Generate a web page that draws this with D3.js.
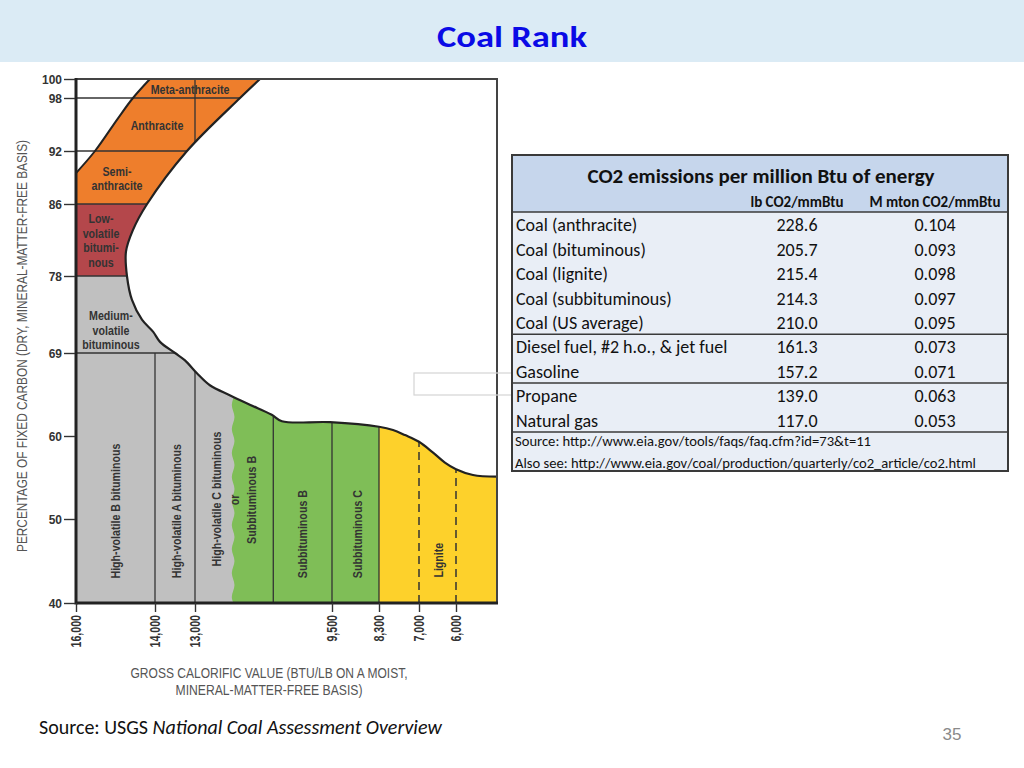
<!DOCTYPE html>
<html><head><meta charset="utf-8">
<script src="https://cdn.jsdelivr.net/npm/d3@7"></script>
<style>body{margin:0;background:#fff;} svg{display:block}</style>
</head><body><svg id="c" width="1024" height="768"></svg>
<script>
// ---------------- DATA ----------------
const pageTitle = "Coal Rank";
const yTicks = [100, 98, 92, 86, 78, 69, 60, 50, 40];            // % fixed carbon
const xTicks = [16000, 14000, 13000, 9500, 8300, 7000, 6000];     // Btu/lb
const rankLevels = [98, 92, 86, 78, 69];                          // horizontal rank boundaries
const solidBtu = [13000, 11000, 9500, 8300];                      // vertical solid boundaries
const hvBoundaryBtu = 14000;                                      // boundary ending at 69%
const dashedBtu = [7000, 6000];
const waveBtu = 12000;                                            // hvC bituminous / subbituminous
const lignitStartBtu = 8300;
const xEndBtu = 4950;
// right edge of the coal field [Btu, %FC]
const rightEdge = [[11340,100],[11850,98],[13200,92],[14200,86],[14560,83.1],[14735,80.7],[14710,78],
  [14583,75.2],[14330,72.9],[14050,71.5],[13875,70.3],[13500,69],[13250,68.2],[12950,66.8],[12620,65.5],
  [12100,64.4],[11600,63.4],[11040,62.3],[10780,61.6],[9550,61.5],[8300,61.0],[7845,60.65],[7455,60.1],
  [7000,59.3],[6620,58.0],[6300,56.8],[6000,56.0],[5565,55.3],[4950,55.1]];
// upper-left edge of the anthracite field
const leftEdge = [[16000,89.5],[15519,92],[14937,95.7],[14558,98],[14128,100]];
const rankNames = [
  ["Meta-anthracite"], ["Anthracite"], ["Semi-","anthracite"], ["Low-","volatile","bitumi-","nous"],
  ["Medium-","volatile","bituminous"]];
const rankAt = [[13125,98.85],[13950,94.9],[14963,89.74],[15367,84.4],[15115,73.4]];
const rotNames = ["High-volatile B bituminous","High-volatile A bituminous","High-volatile C bituminous",
  "or","Subbituminous B","Subbituminous B","Subbituminous C","Lignite"];
const rotAt = [[15013,50.95],[13475,50.95],[12463,52.4],[12000,52.3],[11569,52.3],[10266,48.2],[8862,48.2],[6487,45.1]];
const yTitle = "PERCENTAGE OF FIXED CARBON (DRY, MINERAL-MATTER-FREE BASIS)";
const xTitle = ["GROSS CALORIFIC VALUE (BTU/LB ON A MOIST,", "MINERAL-MATTER-FREE BASIS)"];

const tableTitle = "CO2 emissions per million Btu of energy";
const colHeaders = ["lb CO2/mmBtu", "M mton CO2/mmBtu"];
const fuels = ["Coal (anthracite)","Coal (bituminous)","Coal (lignite)","Coal (subbituminous)","Coal (US average)",
  "Diesel fuel, #2 h.o., & jet fuel","Gasoline","Propane","Natural gas"];
const lbCO2 = [228.6, 205.7, 215.4, 214.3, 210.0, 161.3, 157.2, 139.0, 117.0];
const mtonCO2 = [0.104, 0.093, 0.098, 0.097, 0.095, 0.073, 0.071, 0.063, 0.053];
const groupEnds = [4, 6, 8];
const tableNotes = ["Source: http://www.eia.gov/tools/faqs/faq.cfm?id=73&t=11",
  "Also see: http://www.eia.gov/coal/production/quarterly/co2_article/co2.html"];
const sourcePlain = "Source: USGS ";
const sourceItalic = "National Coal Assessment Overview";
const pageNumber = "35";

// ---------------- DRAW ----------------
const CAL = "Carlito, Calibri, Lato, 'Open Sans', sans-serif";
const HEL = "'Liberation Sans', Arial, Helvetica, sans-serif";
const SQ = 0.82;  // horizontal squeeze to emulate a condensed face
const svg = d3.select("#c");

svg.append("rect").attr("x",0).attr("y",0).attr("width",1024).attr("height",62).attr("fill","#dbebf5");
svg.append("text").attr("x",512).attr("y",47).attr("text-anchor","middle")
  .attr("font-family",CAL).attr("font-weight","bold").attr("font-size",31).attr("fill","#0a0ae6")
  .attr("textLength",150).attr("lengthAdjust","spacingAndGlyphs").text(pageTitle);

const x = d3.scaleLinear().domain([16000,14000,13000,9500,8300,7000,6000,xEndBtu])
  .range([76,155,195,332,379,419,456,497]);
const y = d3.scaleLinear().domain([40,50,60,69,78,86,92,98,100])
  .range([603,519,436,353,276,204,151,98,79]);
const P = d => [x(d[0]), y(d[1])];
const smooth = d3.line().curve(d3.curveCatmullRom.alpha(0.5));
const leftPath = smooth(leftEdge.map(P));
const rightPath = smooth(rightEdge.map(P));
const L = s => s.replace(/^M/, "L");

const outlineD = `M${x(16000)},${y(40)}` + L(leftPath) + L(rightPath) + `L${x(xEndBtu)},${y(40)}Z`;
const leftOfRightD = `M${x(16000)},${y(100)}` + L(rightPath) + `L${x(xEndBtu)},${y(40)}L${x(16000)},${y(40)}Z`;

const defs = svg.append("defs");
defs.append("clipPath").attr("id","field").append("path").attr("d", outlineD);
defs.append("clipPath").attr("id","leftof").append("path").attr("d", leftOfRightD);

const field = svg.append("g").attr("clip-path","url(#field)");
const band = (b0,b1,c0,c1,fill) => field.append("rect")
  .attr("x", x(b0)).attr("width", x(b1)-x(b0)).attr("y", y(c1)).attr("height", y(c0)-y(c1)).attr("fill", fill);
band(16000, xEndBtu, 86, 100, "#ee7e2c");
band(16000, xEndBtu, 78, 86, "#b4474b");
band(16000, xEndBtu, 40, 78, "#c0c0c0");
// green subbituminous with wavy left edge
const wave = [];
for (let py = y(40) + 6, i = 0; py >= y(72); py -= 12, i++) wave.push([x(waveBtu) + (i % 2 ? -5 : 3), py]);
const wavePath = d3.line().curve(d3.curveBasis)(wave);
field.append("path").attr("fill","#7fbe57")
  .attr("d", `M${x(lignitStartBtu)},${y(72)}L${x(lignitStartBtu)},${y(40)+6}` + L(wavePath) + "Z");
band(lignitStartBtu, xEndBtu, 40, 100, "#fdd12b");

// horizontal rank boundaries
svg.append("g").attr("clip-path","url(#leftof)").selectAll("line").data(rankLevels).join("line")
  .attr("x1", x(16000)).attr("x2", x(xEndBtu)).attr("y1", d=>y(d)).attr("y2", d=>y(d))
  .attr("stroke","#333").attr("stroke-width",1.3);
// vertical boundaries
svg.append("line").attr("x1",x(hvBoundaryBtu)).attr("x2",x(hvBoundaryBtu)).attr("y1",y(40)).attr("y2",y(69))
  .attr("stroke","#333").attr("stroke-width",1.3);
const vg = svg.append("g").attr("clip-path","url(#field)");
vg.selectAll("line.s").data(solidBtu).join("line").attr("class","s")
  .attr("x1", d=>x(d)).attr("x2", d=>x(d)).attr("y1", y(40)).attr("y2", y(100))
  .attr("stroke","#333").attr("stroke-width",1.3);
vg.selectAll("line.d").data(dashedBtu).join("line").attr("class","d")
  .attr("x1", d=>x(d)).attr("x2", d=>x(d)).attr("y1", y(40)).attr("y2", y(100))
  .attr("stroke","#333").attr("stroke-width",1.5).attr("stroke-dasharray","8,5");

// outline edges
svg.append("path").attr("d", leftPath).attr("fill","none").attr("stroke","#222").attr("stroke-width",2);
svg.append("path").attr("d", rightPath).attr("fill","none").attr("stroke","#222").attr("stroke-width",2.2);

// frame
svg.append("rect").attr("x", x(16000)).attr("y", y(100)).attr("width", x(xEndBtu)-x(16000))
  .attr("height", y(40)-y(100)).attr("fill","none").attr("stroke","#444").attr("stroke-width",2);
svg.append("line").attr("x1",x(16000)).attr("x2",x(16000)).attr("y1",y(100)-1).attr("y2",y(40)+1.5)
  .attr("stroke","#222").attr("stroke-width",3);
svg.append("line").attr("x1",x(16000)).attr("x2",x(xEndBtu)+1).attr("y1",y(40)).attr("y2",y(40))
  .attr("stroke","#222").attr("stroke-width",3);

// axes
const ya = svg.append("g").attr("transform",`translate(${x(16000)-1},0)`)
  .call(d3.axisLeft(y).tickValues(yTicks).tickSize(11).tickPadding(2).tickFormat(d3.format("d")));
ya.select(".domain").remove();
ya.selectAll(".tick line").attr("stroke","#333").attr("stroke-width",1.4);
ya.selectAll(".tick text").attr("font-family",HEL).attr("font-weight","bold").attr("font-size",13).attr("fill","#333")
  .attr("transform",`scale(0.92,1)`).attr("x",-13/0.92);
const XSQ = 0.76;
const xa = svg.append("g").attr("transform",`translate(0,${y(40)})`)
  .call(d3.axisBottom(x).tickValues(xTicks).tickSize(9).tickFormat(d3.format(",")));
xa.select(".domain").remove();
xa.selectAll(".tick line").attr("stroke","#333").attr("stroke-width",1.4);
xa.selectAll(".tick text").attr("font-family",HEL).attr("font-weight","bold").attr("font-size",14).attr("fill","#333")
  .attr("transform",`rotate(-90) scale(${XSQ},1)`).attr("text-anchor","end").attr("x",-12/XSQ).attr("y",0).attr("dy","0.35em");

// rank labels
const lab = svg.append("g").attr("font-family",HEL).attr("font-weight","bold").attr("font-size",13).attr("fill","#333");
rankNames.forEach((lines,i) => {
  const [bx, cy] = P(rankAt[i]);
  lines.forEach((s,j) => lab.append("text").attr("text-anchor","middle").attr("dy","0.35em")
    .attr("transform",`translate(${bx},${cy + j*14.6}) scale(${SQ},1)`).text(s));
});
rotNames.forEach((s,i) => {
  const [bx, cy] = P(rotAt[i]);
  lab.append("text").attr("transform",`translate(${bx},${cy}) rotate(-90) scale(${SQ},1)`).attr("text-anchor","middle")
    .attr("dy","0.35em").text(s);
});

// axis titles
svg.append("text").attr("transform","translate(22,346) rotate(-90)").attr("text-anchor","middle").attr("dy","0.35em")
  .attr("font-family",HEL).attr("font-size",14).attr("fill","#555")
  .attr("textLength",412).attr("lengthAdjust","spacingAndGlyphs").text(yTitle);
const xtLen = [277, 187];
xTitle.forEach((s,i) => svg.append("text").attr("x",269).attr("y",673 + i*17).attr("dy","0.35em")
  .attr("text-anchor","middle").attr("font-family",HEL).attr("font-size",14.5).attr("fill","#555")
  .attr("textLength",xtLen[i]).attr("lengthAdjust","spacingAndGlyphs").text(s));

// small empty callout box
svg.append("rect").attr("x",414).attr("y",373).attr("width",98).attr("height",22)
  .attr("fill","none").attr("stroke","#d4d4d4").attr("stroke-width",1.2);

// ---------------- TABLE ----------------
const T = {x0:512, x1:1008, y0:155, hdr:212, y1:471};
const tg = svg.append("g").attr("font-family",CAL);
tg.append("rect").attr("x",T.x0).attr("y",T.y0).attr("width",T.x1-T.x0).attr("height",T.y1-T.y0).attr("fill","#e9eef6");
tg.append("rect").attr("x",T.x0).attr("y",T.y0).attr("width",T.x1-T.x0).attr("height",T.hdr-T.y0).attr("fill","#c6d6ec");
const rowY = d3.scaleLinear().domain([0, fuels.length-1]).range([225, 420.2]);
const step = rowY(1)-rowY(0);
const sepYs = [T.hdr].concat(groupEnds.map(i => rowY(i) + step/2 - 0.5));
tg.selectAll("line.sep").data(sepYs).join("line").attr("class","sep")
  .attr("x1",T.x0).attr("x2",T.x1).attr("y1",d=>d).attr("y2",d=>d).attr("stroke","#3a3a3a").attr("stroke-width",1.5);
tg.append("rect").attr("x",T.x0).attr("y",T.y0).attr("width",T.x1-T.x0).attr("height",T.y1-T.y0)
  .attr("fill","none").attr("stroke","#3a3a3a").attr("stroke-width",2);
tg.append("text").attr("x",761).attr("y",176).attr("dy","0.35em").attr("text-anchor","middle")
  .attr("font-weight","bold").attr("font-size",21).attr("fill","#111").text(tableTitle);
const colX = [797, 935];
colHeaders.forEach((s,i) => tg.append("text").attr("x",colX[i]).attr("y",202).attr("dy","0.35em")
  .attr("text-anchor","middle").attr("font-weight","bold").attr("font-size",15).attr("fill","#111").text(s));
tg.selectAll("text.f").data(fuels).join("text").attr("class","f")
  .attr("x",516).attr("y",(d,i)=>rowY(i)).attr("dy","0.35em").attr("font-size",18).attr("fill","#111").text(d=>d);
tg.selectAll("text.lb").data(lbCO2).join("text").attr("class","lb")
  .attr("x",colX[0]).attr("y",(d,i)=>rowY(i)).attr("dy","0.35em").attr("text-anchor","middle")
  .attr("font-size",18).attr("fill","#111").text(d3.format(".1f"));
tg.selectAll("text.mt").data(mtonCO2).join("text").attr("class","mt")
  .attr("x",colX[1]).attr("y",(d,i)=>rowY(i)).attr("dy","0.35em").attr("text-anchor","middle")
  .attr("font-size",18).attr("fill","#111").text(d3.format(".3f"));
tableNotes.forEach((s,i) => tg.append("text").attr("x",515).attr("y",441 + i*21.5).attr("dy","0.35em")
  .attr("font-size",14.6).attr("fill","#111").text(s));

// footer
const ft = svg.append("text").attr("x",39).attr("y",727).attr("dy","0.35em")
  .attr("font-family",CAL).attr("font-size",20).attr("fill","#111");
ft.append("tspan").text(sourcePlain);
ft.append("tspan").attr("font-style","italic").text(sourceItalic);
svg.append("text").attr("x",952).attr("y",734).attr("dy","0.35em").attr("text-anchor","middle")
  .attr("font-family",HEL).attr("font-size",17).attr("fill","#8a8a8a").text(pageNumber);
</script></body></html>
